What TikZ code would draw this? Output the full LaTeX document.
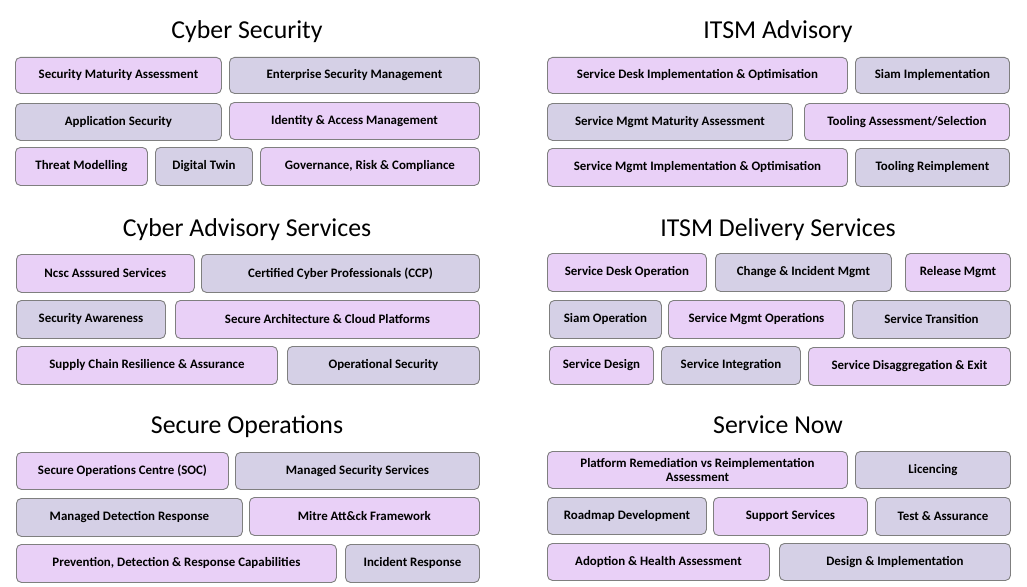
\documentclass[tikz,border=0pt]{standalone}
\usepackage{fontspec}
\setmainfont{Carlito}
\usepackage{xcolor}
\usepackage{tikz}
\usetikzlibrary{positioning}
\definecolor{lilac}{HTML}{E9D0F7}
\definecolor{slate}{HTML}{D5D0E6}
\definecolor{edge}{HTML}{7F7F7F}

\begin{document}
\begin{tikzpicture}[
  x=1pt,y=-1pt,
  box/.style={draw=edge,line width=0.9pt,rounded corners=5pt,anchor=north west,
    inner sep=0pt,align=center,font=\bfseries\fontsize{12.9}{14.5}\selectfont},
  pink/.style={box,fill=lilac},
  grey/.style={box,fill=slate},
  head/.style={anchor=base,font=\fontsize{25.8}{28}\selectfont}
]
\useasboundingbox (0,0) rectangle (1027,586);
% Cyber Security
\node[head] (cshead) at (247,38) {Cyber Security};
\node[pink,minimum width=206pt,minimum height=36pt] (sma) at (15,57) {Security Maturity Assessment};
\node[grey,minimum width=250pt,minimum height=36pt] (esm) at (229,57) {Enterprise Security Management};
\node[grey,minimum width=206pt,minimum height=37pt] (appsec) at (15,103) {Application Security};
\node[pink,minimum width=250pt,minimum height=37pt] (iam) at (229,102) {Identity \& Access Management};
\node[pink,minimum width=132pt,minimum height=38pt] (threat) at (15,147) {Threat Modelling};
\node[grey,minimum width=97pt,minimum height=38pt] (twin) at (155,147) {Digital Twin};
\node[pink,minimum width=219pt,minimum height=38pt] (grc) at (260,147) {Governance, Risk \& Compliance};
% ITSM Advisory
\node[head] (advhead) at (778,38) {ITSM Advisory};
\node[pink,minimum width=300pt,minimum height=36pt] (sdio) at (547,57) {Service Desk Implementation \& Optimisation};
\node[grey,minimum width=154pt,minimum height=36pt] (siamimpl) at (855,57) {Siam Implementation};
\node[grey,minimum width=245pt,minimum height=37pt] (smma) at (547,103) {Service Mgmt Maturity Assessment};
\node[pink,minimum width=205pt,minimum height=37pt] (toolsel) at (804,103) {Tooling Assessment/Selection};
\node[pink,minimum width=300pt,minimum height=38pt] (smio) at (547,148) {Service Mgmt Implementation \& Optimisation};
\node[grey,minimum width=154pt,minimum height=38pt] (toolre) at (855,148) {Tooling Reimplement};
% Cyber Advisory Services
\node[head] (cashead) at (247,236) {Cyber Advisory Services};
\node[pink,minimum width=178pt,minimum height=38pt] (ncsc) at (16,254) {Ncsc Asssured Services};
\node[grey,minimum width=278pt,minimum height=38pt] (ccp) at (201,254) {Certified Cyber Professionals (CCP)};
\node[grey,minimum width=149pt,minimum height=38pt] (aware) at (16,300) {Security Awareness};
\node[pink,minimum width=304pt,minimum height=38pt] (cloud) at (175,300) {Secure Architecture \& Cloud Platforms};
\node[pink,minimum width=261pt,minimum height=38pt] (supply) at (16,346) {Supply Chain Resilience \& Assurance};
\node[grey,minimum width=192pt,minimum height=38pt] (opsec) at (287,346) {Operational Security};
% ITSM Delivery Services
\node[head] (delhead) at (778,236) {ITSM Delivery Services};
\node[pink,minimum width=159pt,minimum height=38pt] (sdo) at (547,253) {Service Desk Operation};
\node[grey,minimum width=176pt,minimum height=38pt] (change) at (715,253) {Change \& Incident Mgmt};
\node[pink,minimum width=105pt,minimum height=38pt] (release) at (905,253) {Release Mgmt};
\node[grey,minimum width=112pt,minimum height=38pt] (siamop) at (549,300) {Siam Operation};
\node[pink,minimum width=176pt,minimum height=38pt] (smo) at (668,300) {Service Mgmt Operations};
\node[grey,minimum width=158pt,minimum height=38pt] (transition) at (852,300) {Service Transition};
\node[pink,minimum width=104pt,minimum height=38pt] (design) at (549,346) {Service Design};
\node[grey,minimum width=139pt,minimum height=38pt] (integ) at (661,346) {Service Integration};
\node[pink,minimum width=202pt,minimum height=38pt] (exit) at (808,347) {Service Disaggregation \& Exit};
% Secure Operations
\node[head] (sechead) at (247,433) {Secure Operations};
\node[pink,minimum width=212pt,minimum height=37pt] (soc) at (16,452) {Secure Operations Centre (SOC)};
\node[grey,minimum width=244pt,minimum height=37pt] (mss) at (235,452) {Managed Security Services};
\node[grey,minimum width=226pt,minimum height=38pt] (mdr) at (16,498) {Managed Detection Response};
\node[pink,minimum width=230pt,minimum height=38pt] (mitre) at (249,497) {Mitre Att\&ck Framework};
\node[pink,minimum width=320pt,minimum height=38pt] (pdrc) at (16,544) {Prevention, Detection \& Response Capabilities};
\node[grey,minimum width=134pt,minimum height=38pt] (ir) at (345,544) {Incident Response};
% Service Now
\node[head] (snowhead) at (778,433) {Service Now};
\node[pink,minimum width=300pt,minimum height=37pt] (platform) at (547,451) {Platform Remediation vs Reimplementation\\Assessment};
\node[grey,minimum width=155pt,minimum height=37pt] (licence) at (855,451) {Licencing};
\node[grey,minimum width=159pt,minimum height=37pt] (roadmap) at (547,497) {Roadmap Development};
\node[pink,minimum width=154pt,minimum height=38pt] (support) at (713,497) {Support Services};
\node[grey,minimum width=135pt,minimum height=38pt] (test) at (875,497) {Test \& Assurance};
\node[pink,minimum width=222pt,minimum height=37pt] (adopt) at (547,543) {Adoption \& Health Assessment};
\node[grey,minimum width=231pt,minimum height=37pt] (dni) at (779,543) {Design \& Implementation};
\end{tikzpicture}
\end{document}
